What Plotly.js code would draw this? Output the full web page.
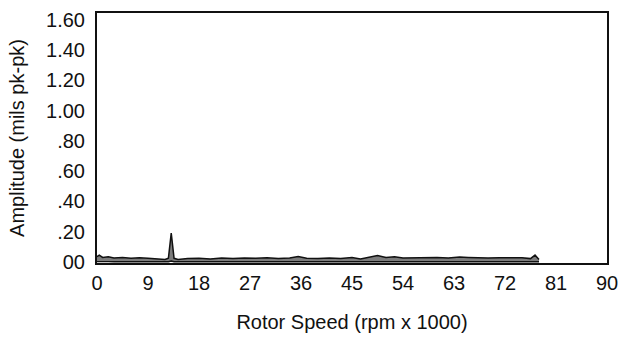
<!DOCTYPE html>
<html><head><meta charset="utf-8">
<script src="https://cdn.plot.ly/plotly-3.0.1.min.js"></script>
<style>html,body{margin:0;padding:0;background:#fff}#chart{width:621px;height:346px}</style>
</head><body><div id="chart"></div>
<script>
// Rotor speed (rpm x 1000) sample points
var speed = [0, 0.4, 1.0, 2.0, 3.0, 4.5, 6.0, 7.5, 9.0, 10.5, 12.0, 12.6, 13.1, 13.6, 14.3, 16.0, 18.0, 20.0, 22.0, 24.0, 26.0, 28.0, 30.0, 32.0, 34.0, 35.5, 37.0, 39.0, 41.0, 43.0, 45.0, 46.5, 48.0, 49.5, 51.0, 52.5, 54.0, 56.0, 58.0, 60.0, 62.0, 64.0, 65.5, 67.0, 69.0, 71.0, 73.0, 75.0, 76.5, 77.3, 78.0];
// Upper trace of the amplitude band (mils pk-pk)
var ampUpper = [0.035, 0.045, 0.030, 0.034, 0.026, 0.030, 0.024, 0.028, 0.024, 0.022, 0.016, 0.024, 0.190, 0.024, 0.016, 0.022, 0.024, 0.020, 0.026, 0.022, 0.026, 0.024, 0.028, 0.022, 0.026, 0.036, 0.024, 0.022, 0.026, 0.022, 0.030, 0.020, 0.030, 0.042, 0.030, 0.034, 0.026, 0.028, 0.026, 0.030, 0.026, 0.032, 0.030, 0.028, 0.026, 0.028, 0.030, 0.028, 0.022, 0.045, 0.016];
// Lower trace of the amplitude band (mils pk-pk)
var ampLower = [0.002, 0.003, 0.001, 0.002, 0.001, 0.002, 0.001, 0.002, 0.001, 0.001, 0.001, 0.001, 0.006, 0.001, 0.001, 0.001, 0.001, 0.001, 0.002, 0.001, 0.001, 0.001, 0.002, 0.001, 0.001, 0.003, 0.001, 0.001, 0.001, 0.001, 0.001, 0.001, 0.002, 0.003, 0.001, 0.002, 0.001, 0.001, 0.001, 0.002, 0.001, 0.002, 0.001, 0.001, 0.001, 0.001, 0.002, 0.001, 0.001, 0.003, 0.001];
// Tick values and labels
var xTicks = [0, 9, 18, 27, 36, 45, 54, 63, 72, 81, 90];
var xTickText = ['0', '9', '18', '27', '36', '45', '54', '63', '72', '81', '90'];
var yTicks = [0, 0.2, 0.4, 0.6, 0.8, 1.0, 1.2, 1.4, 1.6];
var yTickText = ['00', '.20', '.40', '.60', '.80', '1.00', '1.20', '1.40', '1.60'];

var font = {family: 'Liberation Sans, Arial, Helvetica, sans-serif', size: 20, color: '#111'};

var traces = [
  {x: speed, y: ampLower, mode: 'lines', line: {color: '#111', width: 1.4}, hoverinfo: 'skip', showlegend: false},
  {x: speed, y: ampUpper, mode: 'lines', fill: 'tonexty', fillcolor: 'rgba(80,80,80,0.75)', line: {color: '#111', width: 1.5}, hoverinfo: 'skip', showlegend: false}
];

var layout = {
  width: 621, height: 346,
  margin: {l: 97, r: 14, t: 13, b: 83},
  paper_bgcolor: '#fff', plot_bgcolor: '#fff',
  font: font,
  showlegend: false,
  xaxis: {
    range: [0, 90], tickvals: xTicks, ticktext: xTickText,
    showgrid: false, zeroline: false, showline: true, linecolor: '#111', linewidth: 2, mirror: true,
    ticks: '', ticklabelstandoff: 1, tickfont: font,
    title: {text: 'Rotor Speed (rpm x 1000)', font: font, standoff: 22}
  },
  yaxis: {
    range: [-0.007, 1.645], tickvals: yTicks, ticktext: yTickText,
    showgrid: false, zeroline: false, showline: true, linecolor: '#111', linewidth: 2, mirror: true,
    ticks: '', ticklabelstandoff: 6, tickfont: font,
    title: {text: 'Amplitude (mils pk-pk)', font: font, standoff: 16}
  }
};

Plotly.newPlot('chart', traces, layout, {staticPlot: true, displayModeBar: false});
</script></body></html>
